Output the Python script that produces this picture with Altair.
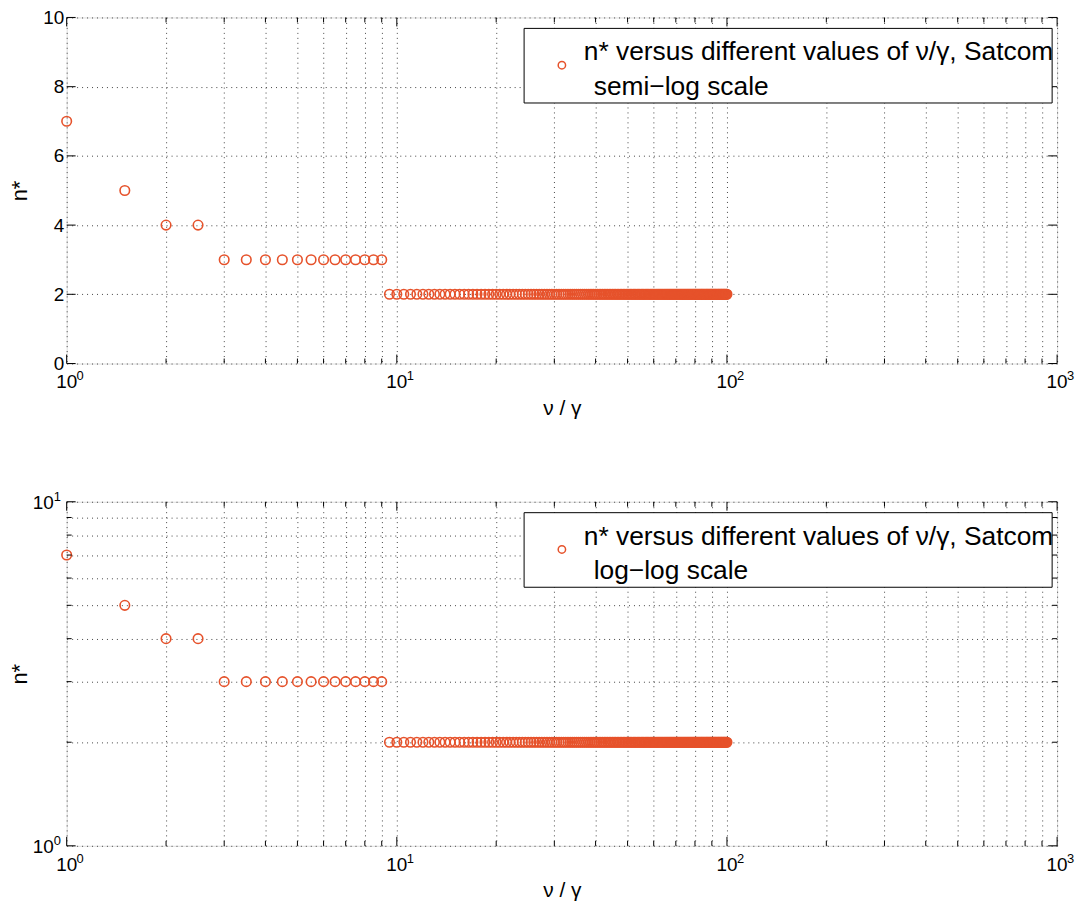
import altair as alt
import pandas as pd

# ---- data ----
x_vals = [
    1, 1.5, 2, 2.5, 3, 3.5, 4, 4.5, 5, 5.5, 6, 6.5, 7, 7.5, 8, 8.5, 9, 9.5, 10, 10.5,
    11, 11.5, 12, 12.5, 13, 13.5, 14, 14.5, 15, 15.5, 16, 16.5, 17, 17.5, 18, 18.5, 19, 19.5, 20, 20.5,
    21, 21.5, 22, 22.5, 23, 23.5, 24, 24.5, 25, 25.5, 26, 26.5, 27, 27.5, 28, 28.5, 29, 29.5, 30, 30.5,
    31, 31.5, 32, 32.5, 33, 33.5, 34, 34.5, 35, 35.5, 36, 36.5, 37, 37.5, 38, 38.5, 39, 39.5, 40, 40.5,
    41, 41.5, 42, 42.5, 43, 43.5, 44, 44.5, 45, 45.5, 46, 46.5, 47, 47.5, 48, 48.5, 49, 49.5, 50, 50.5,
    51, 51.5, 52, 52.5, 53, 53.5, 54, 54.5, 55, 55.5, 56, 56.5, 57, 57.5, 58, 58.5, 59, 59.5, 60, 60.5,
    61, 61.5, 62, 62.5, 63, 63.5, 64, 64.5, 65, 65.5, 66, 66.5, 67, 67.5, 68, 68.5, 69, 69.5, 70, 70.5,
    71, 71.5, 72, 72.5, 73, 73.5, 74, 74.5, 75, 75.5, 76, 76.5, 77, 77.5, 78, 78.5, 79, 79.5, 80, 80.5,
    81, 81.5, 82, 82.5, 83, 83.5, 84, 84.5, 85, 85.5, 86, 86.5, 87, 87.5, 88, 88.5, 89, 89.5, 90, 90.5,
    91, 91.5, 92, 92.5, 93, 93.5, 94, 94.5, 95, 95.5, 96, 96.5, 97, 97.5, 98, 98.5, 99, 99.5, 100,
]
n_star = [7, 5, 4, 4] + [3] * 13 + [2] * 182

legend_line1 = "n* versus different values of \u03bd/\u03b3, Satcom"
legend_top2 = "semi\u2212log scale"
legend_bot2 = "log\u2212log scale"
x_title = "\u03bd / \u03b3"
y_title = "n*"

x_major = [1, 10, 100, 1000]
x_major_exp = ["0", "1", "2", "3"]
x_minor = [2, 3, 4, 5, 6, 7, 8, 9, 20, 30, 40, 50, 60, 70, 80, 90,
           200, 300, 400, 500, 600, 700, 800, 900]
y_lin_ticks = [0, 2, 4, 6, 8, 10]
y_log_major = [1, 10]
y_log_major_exp = ["0", "1"]
y_log_minor = [2, 3, 4, 5, 6, 7, 8, 9]

# ---- styling ----
W = 996
H_TOP = 348
H_BOT = 346
COLOR = "#e6522b"
FONT = "Liberation Sans"
MAJ = 9
MIN = 5

df = pd.DataFrame({"x": x_vals, "n": n_star})

grid_kw = dict(grid=True, gridColor="#444444", gridDash=[1, 4], gridWidth=1,
               ticks=False, domain=False, labelFont=FONT, labelFontSize=19,
               labelColor="black", labelFlush=False, labelOverlap=False,
               titleFont=FONT, titleColor="black", titleFontWeight="normal")

x_grid_vals = sorted(x_major + x_minor)


def x_enc():
    return alt.X("x:Q",
                 scale=alt.Scale(type="log", domain=[1, 1000], nice=False),
                 axis=alt.Axis(values=x_grid_vals, labels=False,
                               title=x_title, titleFontSize=21,
                               titleX=W / 2, titleY=45, titleBaseline="middle",
                               titleAlign="center", **grid_kw))


def panel(H, log_y, line2):
    if log_y:
        yscale = alt.Scale(type="log", domain=[1, 10], nice=False)
        yaxis = alt.Axis(values=sorted(y_log_major + y_log_minor), labels=False,
                         title=y_title, titleFontSize=22,
                         titleX=-47, titleY=H / 2, titleAngle=270,
                         titleBaseline="middle", titleAlign="center", **grid_kw)
    else:
        yscale = alt.Scale(domain=[0, 10], nice=False)
        yaxis = alt.Axis(values=y_lin_ticks, labelPadding=3, title=y_title,
                         titleFontSize=22, titleX=-47, titleY=H / 2, titleAngle=270,
                         titleBaseline="middle", titleAlign="center", **grid_kw)

    pts = alt.Chart(df).mark_point(shape="circle", filled=False, size=92, strokeWidth=1.6,
                                   color=COLOR, opacity=1).encode(
        x=x_enc(), y=alt.Y("n:Q", scale=yscale, axis=yaxis))

    layers = [pts]
    # x tick labels as 10 with a raised exponent
    xl = pd.DataFrame({"x": x_major, "base": ["10"] * len(x_major), "exp": x_major_exp})
    layers.append(alt.Chart(xl).mark_text(align="center", baseline="middle", font=FONT,
                                          fontSize=19, color="black").encode(
        x="x:Q", y=alt.value(H + 19), text="base:N"))
    layers.append(alt.Chart(xl).mark_text(align="left", baseline="middle", font=FONT,
                                          fontSize=13, color="black", dx=10).encode(
        x="x:Q", y=alt.value(H + 13), text="exp:N"))
    if log_y:
        yl = pd.DataFrame({"n": y_log_major, "base": ["10"] * len(y_log_major),
                           "exp": y_log_major_exp})
        layers.append(alt.Chart(yl).mark_text(align="right", baseline="middle", font=FONT,
                                              fontSize=19, color="black", dy=1).encode(
            y="n:Q", x=alt.value(-13), text="base:N"))
        layers.append(alt.Chart(yl).mark_text(align="left", baseline="middle", font=FONT,
                                              fontSize=13, color="black", dy=-5).encode(
            y="n:Q", x=alt.value(-13), text="exp:N"))

    # x ticks (bottom and top, pointing inward)
    for vals, ln in ((x_major, MAJ), (x_minor, MIN)):
        d = pd.DataFrame({"x": vals})
        layers.append(alt.Chart(d).mark_rule(color="black", strokeWidth=1).encode(
            x="x:Q", y=alt.value(H), y2=alt.value(H - ln)))
        layers.append(alt.Chart(d).mark_rule(color="black", strokeWidth=1).encode(
            x="x:Q", y=alt.value(0), y2=alt.value(ln)))
    # y ticks (left and right)
    if log_y:
        ysets = ((y_log_major, MAJ), (y_log_minor, MIN))
    else:
        ysets = ((y_lin_ticks, MAJ),)
    for vals, ln in ysets:
        d = pd.DataFrame({"n": vals})
        layers.append(alt.Chart(d).mark_rule(color="black", strokeWidth=1).encode(
            y="n:Q", x=alt.value(0), x2=alt.value(ln)))
        layers.append(alt.Chart(d).mark_rule(color="black", strokeWidth=1).encode(
            y="n:Q", x=alt.value(W), x2=alt.value(W - ln)))

    # legend box
    one = pd.DataFrame({"k": [0]})
    layers.append(alt.Chart(one).mark_rect(fill="white", stroke="black", strokeWidth=1).encode(
        x=alt.value(460), x2=alt.value(991), y=alt.value(11), y2=alt.value(86)))
    layers.append(alt.Chart(one).mark_point(shape="circle", filled=False, size=55,
                                            strokeWidth=1.5, color=COLOR, opacity=1).encode(
        x=alt.value(498), y=alt.value(48)))
    layers.append(alt.Chart(one).mark_text(align="left", baseline="middle", font=FONT,
                                           fontSize=26.5, color="black").encode(
        x=alt.value(520), y=alt.value(35), text=alt.value(legend_line1)))
    layers.append(alt.Chart(one).mark_text(align="left", baseline="middle", font=FONT,
                                           fontSize=26.5, color="black").encode(
        x=alt.value(530), y=alt.value(70), text=alt.value(line2)))

    return alt.layer(*layers).properties(width=W, height=H)


top = panel(H_TOP, False, legend_top2)
bot = panel(H_BOT, True, legend_bot2)

chart = alt.vconcat(top, bot, spacing=139, bounds="flush").properties(
    padding={"left": 0, "top": -3, "right": 0, "bottom": 0},
).configure_view(stroke="black", strokeWidth=1).configure(background="white")

chart.save("out.html", embed_options={"renderer": "svg", "actions": False})
